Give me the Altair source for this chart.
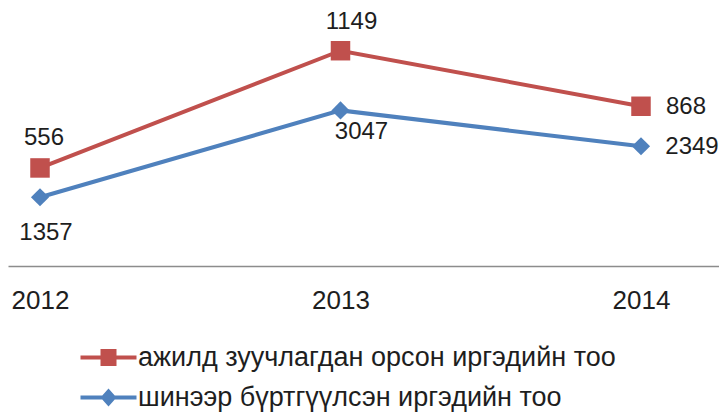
import altair as alt
import pandas as pd

years = [2012, 2013, 2014]
employed = [556, 1149, 868]          # ажилд зуучлагдан орсон иргэдийн тоо
registered = [1357, 3047, 2349]      # шинээр бүртгүүлсэн иргэдийн тоо
series_names = ["ажилд зуучлагдан орсон иргэдийн тоо", "шинээр бүртгүүлсэн иргэдийн тоо"]

RED = "#C0504D"
BLUE = "#4F81BD"
FONT = "Liberation Sans"
TXT = "#1e1e1e"

df = pd.DataFrame({"year": years, "employed": employed, "registered": registered})
legend_df = pd.DataFrame({"series": series_names})

x_enc = alt.X(
    "year:Q",
    scale=alt.Scale(domain=[2011.89351, 2014.25957], nice=False, zero=False),
    axis=alt.Axis(values=years, format="d", title=None, ticks=False, tickSize=0, grid=False,
                  labelFontSize=26, labelFont=FONT, labelColor=TXT, labelPadding=21,
                  domainColor="#8c8c8c", domainWidth=1.5),
)

base = alt.Chart(df)

def series_layers(field, color, shape, size, domain, label_offsets):
    y = alt.Y(f"{field}:Q", scale=alt.Scale(domain=domain, nice=False, zero=False), axis=None)
    line = base.mark_line(color=color, strokeWidth=4).encode(x=x_enc, y=y)
    pts = base.mark_point(shape=shape, filled=True, size=size, color=color, opacity=1).encode(x=x_enc, y=y)
    layers = [line, pts]
    for yr, (dx, dy) in zip(years, label_offsets):
        layers.append(
            base.transform_filter(alt.datum.year == yr)
            .mark_text(font=FONT, fontSize=24, color=TXT, dx=dx, dy=dy, baseline="middle", align="center")
            .encode(x=x_enc, y=y, text=alt.Text(f"{field}:Q", format="d"))
        )
    return layers

red_layers = series_layers("employed", RED, "square", 380, [60, 1355],
                           [(4, -30), (11, -29), (45, 1)])
blue_layers = series_layers("registered", BLUE, "diamond", 330, [20, 5000],
                            [(6, 36), (21, 22), (51, 1)])

PATH_R = "M-2.8,-0.2L2.8,-0.2L2.8,0.2L-2.8,0.2Z M-0.8,-0.85L0.8,-0.85L0.8,0.85L-0.8,0.85Z"
PATH_B = "M-2.8,-0.2L2.8,-0.2L2.8,0.2L-2.8,0.2Z M0,-0.9L0.8,0L0,0.9L-0.8,0Z"

leg = alt.Legend(orient="none", legendX=87, legendY=334, direction="vertical", title=None,
                 labelFontSize=27, labelFont=FONT, labelColor=TXT, labelLimit=1000, symbolSize=400,
                 symbolOpacity=1, symbolStrokeWidth=0, labelOffset=16, rowPadding=12, padding=0)

legend_layer = alt.Chart(legend_df).transform_filter("false").mark_point(filled=True, opacity=1).encode(
    color=alt.Color("series:N", scale=alt.Scale(domain=series_names, range=[RED, BLUE]), legend=leg),
    shape=alt.Shape("series:N", scale=alt.Scale(domain=series_names, range=[PATH_R, PATH_B]), legend=leg),
)

chart = alt.layer(*red_layers, *blue_layers, legend_layer).resolve_scale(
    y="independent"
).properties(
    width=711, height=256,
    autosize=alt.AutoSizeParams(type="none"),
    padding={"left": 0, "top": 2, "right": 0, "bottom": 146},
    background="white",
).configure_view(stroke=None)

chart.save("out.html", embed_options={"renderer": "svg", "actions": False})
